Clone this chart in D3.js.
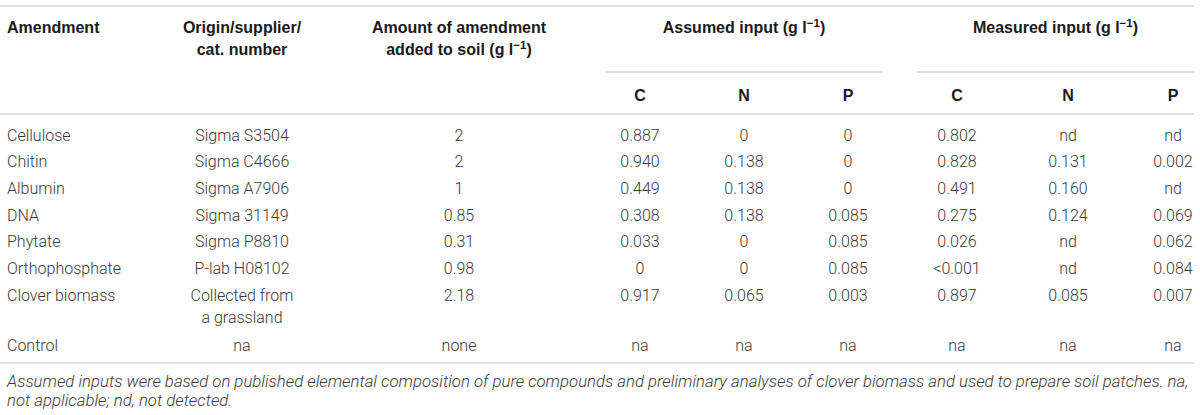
<!DOCTYPE html>
<html>
<head>
<meta charset="utf-8">
<script src="https://cdn.jsdelivr.net/npm/d3@7"></script>
<style>
  html, body { margin: 0; padding: 0; background: #fff; }
  svg { display: block; }
  .body { font-family: "Roboto", "Liberation Sans", sans-serif; font-weight: 300; font-size: 16px; fill: #3a3a3a; }
  .head { font-family: "Liberation Sans", "Roboto", sans-serif; font-weight: 700; font-size: 16px; fill: #1a1a1a; }
  .foot { font-family: "Roboto", "Liberation Sans", sans-serif; font-weight: 300; font-style: italic; fill: #3a3a3a; }
</style>
</head>
<body>
<svg id="chart" width="1200" height="415"></svg>
<script>
// ---- data ----
const amendments = ["Cellulose", "Chitin", "Albumin", "DNA", "Phytate", "Orthophosphate", "Clover biomass", "Control"];
const origins = ["Sigma S3504", "Sigma C4666", "Sigma A7906", "Sigma 31149", "Sigma P8810", "P-lab H08102", "Collected from|a grassland", "na"];
const amounts = ["2", "2", "1", "0.85", "0.31", "0.98", "2.18", "none"];
const assumedC = ["0.887", "0.940", "0.449", "0.308", "0.033", "0", "0.917", "na"];
const assumedN = ["0", "0.138", "0.138", "0.138", "0", "0", "0.065", "na"];
const assumedP = ["0", "0", "0", "0.085", "0.085", "0.085", "0.003", "na"];
const measuredC = ["0.802", "0.828", "0.491", "0.275", "0.026", "<0.001", "0.897", "na"];
const measuredN = ["nd", "0.131", "0.160", "0.124", "nd", "nd", "0.085", "na"];
const measuredP = ["nd", "0.002", "nd", "0.069", "0.062", "0.084", "0.007", "na"];
const columnKeys = ["amendment", "origin", "amount", "aC", "aN", "aP", "mC", "mN", "mP"];
const columnHeaders = [["Amendment"], ["Origin/supplier/", "cat. number"], ["Amount of amendment", "added to soil (g l|−1|)"], ["C"], ["N"], ["P"], ["C"], ["N"], ["P"]];
const groupHeaders = ["Assumed input (g l|−1|)", "Measured input (g l|−1|)"];
const rowSlots = [0, 1, 2, 3, 4, 5, 6, 7.9];
const footnote = ["Assumed inputs were based on published elemental composition of pure compounds and preliminary analyses of clover biomass and used to prepare soil patches. na,",
                  "not applicable; nd, not detected."];

// ---- build ----
const svg = d3.select("#chart");
const x = d3.scaleOrdinal().domain(columnKeys).range([7, 242, 459, 640, 744, 848, 957, 1068, 1173]);
const y = d3.scaleLinear().domain([0, 6]).range([135, 295]);
const lineColor = "#d6d6d6";

const columns = [amendments, origins, amounts, assumedC, assumedN, assumedP, measuredC, measuredN, measuredP];
const table = amendments.map((a, i) => columnKeys.map((k, j) => ({ key: k, text: columns[j][i], row: i })));

function addRich(sel, str) {
  str.split("|").forEach((p, i) => {
    if (!p) return;
    const t = sel.append("tspan").text(p);
    if (i % 2 === 1) t.attr("baseline-shift", "super").attr("font-size", "0.72em");
  });
}

// rules
const rules = [
  { x1: 0, x2: 1194, y: 6 },
  { x1: 606, x2: 882, y: 72 },
  { x1: 917, x2: 1194, y: 72 },
  { x1: 0, x2: 1194, y: 114 },
  { x1: 0, x2: 1194, y: 363 }
];
svg.selectAll("line.rule").data(rules).join("line")
  .attr("class", "rule")
  .attr("x1", d => d.x1).attr("x2", d => d.x2)
  .attr("y1", d => d.y).attr("y2", d => d.y)
  .attr("stroke", lineColor).attr("stroke-width", 1.5);

// column headers
const hdr = svg.append("g");
columnKeys.forEach((k, j) => {
  const lines = columnHeaders[j];
  const baseY = j >= 3 ? 95 : 27;
  lines.forEach((ln, li) => {
    const t = hdr.append("text").attr("class", "head")
      .attr("x", x(k)).attr("y", baseY + li * 22).attr("dy", "0.35em")
      .attr("text-anchor", j === 0 ? "start" : "middle");
    addRich(t, ln);
  });
});
// group headers
[[606, 882], [917, 1194]].forEach((r, i) => {
  const t = hdr.append("text").attr("class", "head")
    .attr("x", (r[0] + r[1]) / 2).attr("y", 27).attr("dy", "0.35em")
    .attr("text-anchor", "middle");
  addRich(t, groupHeaders[i]);
});

// body cells
const rows = svg.append("g").selectAll("g").data(table).join("g")
  .attr("transform", (d, i) => `translate(0,${y(rowSlots[i])})`);
rows.selectAll("text").data(d => d).join("text")
  .attr("class", "body")
  .attr("x", d => x(d.key))
  .attr("text-anchor", d => d.key === "amendment" ? "start" : "middle")
  .each(function (d) {
    const parts = d.text.split("|");
    const sel = d3.select(this);
    parts.forEach((p, i) => sel.append("tspan").attr("x", x(d.key)).attr("dy", i === 0 ? "0.35em" : "22px").text(p));
  });

// footnote: size the italic font so the first line spans the same width as in the reference
const fn = svg.append("g");
const footTexts = footnote.map((ln, i) =>
  fn.append("text").attr("class", "foot")
    .attr("x", 7).attr("y", 381 + i * 19.5).attr("dy", "0.35em")
    .attr("font-size", 15).text(ln));
const measured = footTexts[0].node().getBBox().width;
const size = measured > 0 ? 15 * 1183 / measured : 15;
footTexts.forEach(t => t.attr("font-size", size));
</script>
</body>
</html>
